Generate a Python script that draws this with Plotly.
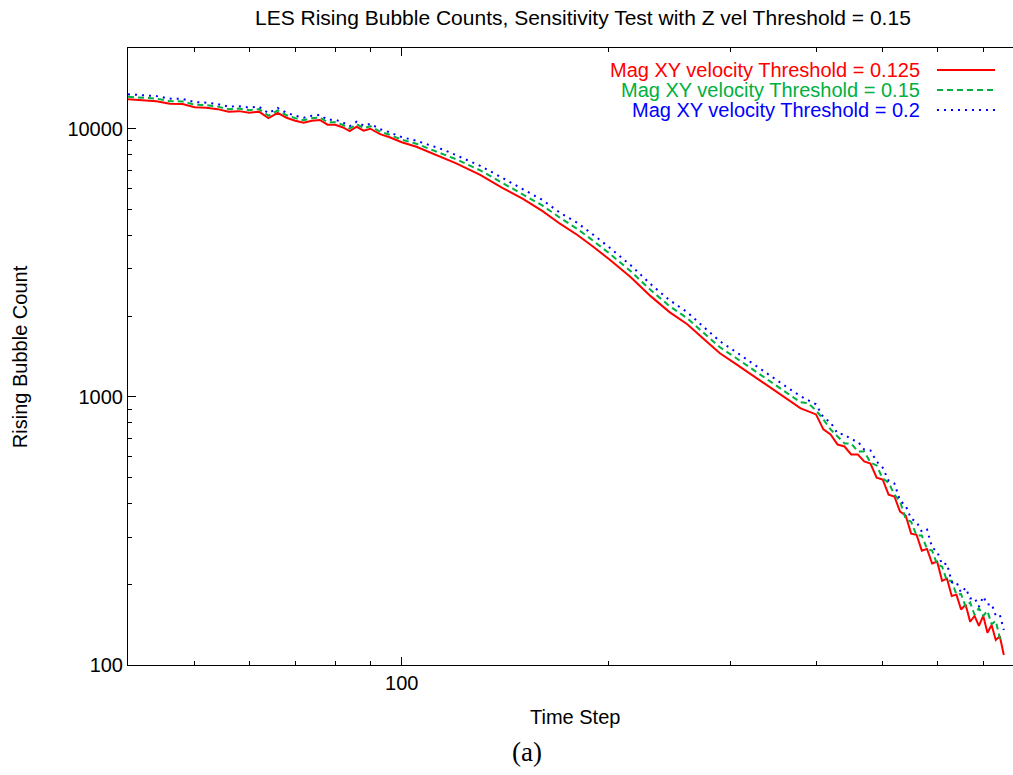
import plotly.graph_objects as go

# ---- data ----
time_step = [40, 42, 44, 46, 48, 50, 52, 54, 56, 58, 60, 62, 64, 66, 68, 70, 72, 74, 76, 78,
             80, 82, 84, 86, 88, 90, 93, 96, 100,
             105, 110, 115, 120, 130, 140, 150, 160, 170, 180, 190, 200, 215, 230, 245, 260,
             275, 290, 305, 320, 335, 350, 365, 380,
             390, 400, 410, 420, 430, 440, 450, 460, 470, 480, 490, 500, 510, 520, 530, 540,
             550, 560, 570, 580, 590, 600, 610, 620, 630, 640, 650, 660, 670, 680, 690, 700,
             710, 720, 730, 740, 750]

count_0125 = [12870, 12780, 12670, 12400, 12370, 12030, 11980, 11830, 11580, 11630, 11480, 11580,
              10950, 11450, 10990, 10710, 10530, 10710, 10780, 10350, 10350, 10130, 9790, 10170,
              9830, 10000, 9540, 9290, 8900,
              8565, 8134, 7791, 7431, 6730, 6018, 5474, 4937, 4414, 4015, 3621, 3266, 2797, 2375,
              2070, 1866, 1640, 1454, 1334, 1224, 1133, 1049, 970, 906,
              883, 860, 756, 724, 664, 653, 610, 610, 574, 564, 500, 492, 432, 425, 373, 361,
              309, 306, 267, 271, 239, 243, 206, 210, 181, 183, 161, 168, 145, 152.5, 140, 152.5,
              132, 141, 124, 128, 109]

count_015 = [13150, 13060, 12950, 12670, 12640, 12290, 12240, 12090, 11830, 11890, 11730, 11830,
             11190, 11700, 11230, 10950, 10760, 10950, 11020, 10580, 10580, 10350, 10010, 10390,
             10050, 10220, 9750, 9490, 9100,
             8789, 8383, 8064, 7691, 6996, 6283, 5715, 5176, 4648, 4228, 3813, 3439, 2945, 2501,
             2180, 1965, 1727, 1531, 1405, 1289, 1193, 1105, 1021, 954,
             946, 890, 824, 756, 712, 670, 670, 626, 626, 569, 555, 496, 479, 432, 407, 351,
             342, 304, 304, 271, 267, 237, 233, 206, 206, 183, 184, 165, 171, 154, 163, 152.5,
             159, 142, 146, 126, 124]

count_02 = [13440, 13340, 13230, 12950, 12910, 12560, 12510, 12350, 12090, 12140, 11990, 12090,
            11430, 11950, 11470, 11180, 10990, 11180, 11250, 10810, 10810, 10580, 10220, 10620,
            10260, 10440, 9960, 9700, 9300,
            9019, 8639, 8347, 7961, 7272, 6559, 5966, 5427, 4852, 4452, 4015, 3621, 3101, 2633,
            2295, 2069, 1818, 1612, 1479, 1357, 1256, 1163, 1076, 1005,
            970, 938, 838, 803, 730, 724, 694, 682, 636, 631, 574, 545, 487, 475, 410, 393,
            351, 342, 314, 320, 274, 265, 237, 239, 204, 204, 186, 194, 177, 178, 165, 180,
            168, 169, 153, 154, 135]

series_names = ["Mag XY velocity Threshold = 0.125",
                "Mag XY velocity Threshold = 0.15",
                "Mag XY velocity Threshold = 0.2"]
series_values = [count_0125, count_015, count_02]
series_colors = ["#ff0000", "#00b040", "#0000ff"]
series_dash = ["solid", "6px,4px", "2px,5px"]

x_major = [100]
x_minor = [50, 60, 70, 80, 90, 200, 300, 400, 500, 600, 700]
y_major = [100, 1000, 10000]
y_minor = [200, 300, 400, 500, 600, 700, 800, 900,
           2000, 3000, 4000, 5000, 6000, 7000, 8000, 9000]

FONT = "Liberation Sans, Arial, sans-serif"

fig = go.Figure()
for name, vals, col, dash in zip(series_names, series_values, series_colors, series_dash):
    fig.add_trace(go.Scatter(x=time_step, y=vals, mode="lines", name=name,
                             line=dict(color=col, width=2, dash=dash),
                             showlegend=False))

# legend (gnuplot style: right-aligned text, sample line on the right)
legend_y = [0.9643, 0.9319, 0.8995]
for name, col, dash, ly in zip(series_names, series_colors, series_dash, legend_y):
    fig.add_annotation(xref="paper", yref="paper", x=0.8972, y=ly, text=name,
                       showarrow=False, xanchor="right", yanchor="middle",
                       font=dict(family=FONT, size=20, color=col))
    fig.add_shape(type="line", xref="paper", yref="paper", x0=0.9141, x1=0.9797,
                  y0=ly, y1=ly, line=dict(color=col, width=2, dash=dash))

# titles
fig.add_annotation(xref="paper", yref="paper", x=0.514, y=1.050,
                   text="LES Rising Bubble Counts, Sensitivity Test with Z vel Threshold = 0.15",
                   showarrow=False, xanchor="center", yanchor="middle",
                   font=dict(family=FONT, size=21, color="black"))
fig.add_annotation(xref="paper", yref="paper", x=0.505, y=-0.0843, text="Time Step",
                   showarrow=False, xanchor="center", yanchor="middle",
                   font=dict(family=FONT, size=20, color="black"))
fig.add_annotation(xref="paper", yref="paper", x=-0.122, y=0.499, text="Rising Bubble Count",
                   showarrow=False, xanchor="center", yanchor="middle", textangle=-90,
                   font=dict(family=FONT, size=20, color="black"))
fig.add_annotation(xref="paper", yref="paper", x=0.451, y=-0.141, text="(a)",
                   showarrow=False, xanchor="center", yanchor="middle",
                   font=dict(family="Liberation Serif, serif", size=27, color="black"))

axis_common = dict(showline=True, linecolor="black", linewidth=1, showgrid=False,
                   zeroline=False, ticks="inside", tickcolor="black", tickwidth=1,
                   ticklen=8, tickfont=dict(family=FONT, size=20, color="black"))

fig.update_xaxes(type="log", range=[1.60206, 2.8884], tickmode="array",
                 tickvals=x_major, ticktext=[str(v) for v in x_major],
                 mirror="ticks",
                 minor=dict(tickmode="array", tickvals=x_minor, ticks="inside",
                            ticklen=4, tickcolor="black", tickwidth=1),
                 **axis_common)
fig.update_yaxes(type="log", range=[2, 4.30103], tickmode="array",
                 tickvals=y_major, ticktext=[str(v) for v in y_major],
                 mirror=False,
                 minor=dict(tickmode="array", tickvals=y_minor, ticks="inside",
                            ticklen=4, tickcolor="black", tickwidth=1),
                 **axis_common)

fig.update_layout(width=1013, height=775,
                  margin=dict(l=128, r=0, t=48, b=110),
                  paper_bgcolor="white", plot_bgcolor="white",
                  font=dict(family=FONT, size=20, color="black"))

fig.write_html("out.html")
